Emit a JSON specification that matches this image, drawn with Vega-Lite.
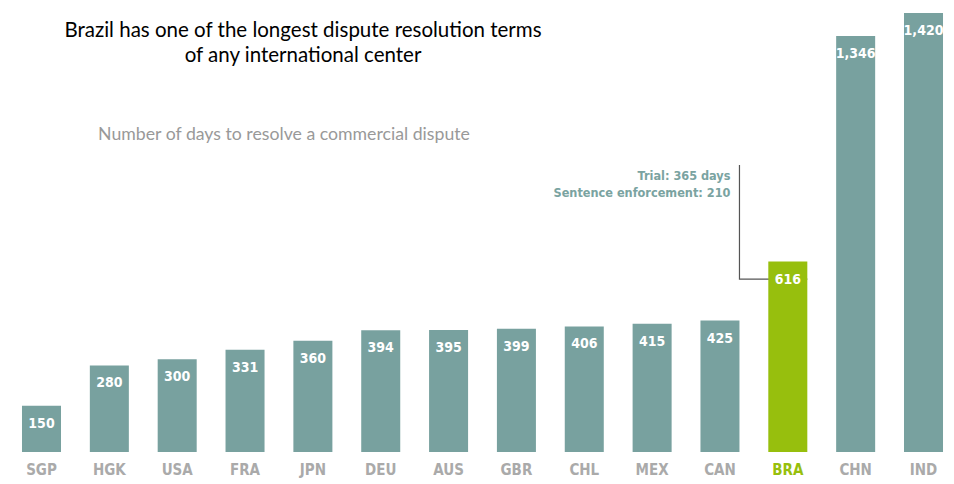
{
  "$schema": "https://vega.github.io/schema/vega-lite/v6.json",
  "width": 943,
  "height": 439,
  "autosize": {"type": "none"},
  "padding": {"left": 11, "top": 13, "right": 0, "bottom": 32},
  "background": "white",
  "config": {"view": {"stroke": null}},
  "title": {
    "text": ["Brazil has one of the longest dispute resolution terms", "of any international center"],
    "anchor": "start",
    "align": "center",
    "frame": "group",
    "dx": 292,
    "offset": -53,
    "baseline": "top",
    "font": "Lato",
    "fontSize": 20.5,
    "fontWeight": "normal",
    "color": "#000000",
    "lineHeight": 25
  },
  "datasets": {
    "bars": [
      {"country": "SGP", "days": 150},
      {"country": "HGK", "days": 280},
      {"country": "USA", "days": 300},
      {"country": "FRA", "days": 331},
      {"country": "JPN", "days": 360},
      {"country": "DEU", "days": 394},
      {"country": "AUS", "days": 395},
      {"country": "GBR", "days": 399},
      {"country": "CHL", "days": 406},
      {"country": "MEX", "days": 415},
      {"country": "CAN", "days": 425},
      {"country": "BRA", "days": 616},
      {"country": "CHN", "days": 1346},
      {"country": "IND", "days": 1420}
    ],
    "leader": [
      {"country": "CAN", "days": 928, "order": 1},
      {"country": "CAN", "days": 559, "order": 2},
      {"country": "BRA", "days": 559, "order": 3}
    ],
    "note": [
      {"country": "CAN", "days": 893, "text": "Trial: 365 days"},
      {"country": "CAN", "days": 838, "text": "Sentence enforcement: 210"}
    ],
    "subtitle": [
      {"country": "SGP", "days": 1025, "text": "Number of days to resolve a commercial dispute"}
    ]
  },
  "encoding": {
    "x": {
      "field": "country",
      "type": "nominal",
      "sort": null,
      "scale": {"domain": ["SGP","HGK","USA","FRA","JPN","DEU","AUS","GBR","CHL","MEX","CAN","BRA","CHN","IND"], "paddingInner": 0.425, "paddingOuter": 0.162},
      "axis": {
        "title": null,
        "domain": false,
        "ticks": false,
        "grid": false,
        "labelAngle": 0,
        "labelPadding": 10,
        "labelFont": "DejaVu Sans Condensed",
        "labelFontSize": 15,
        "labelFontWeight": "bold",
        "labelColor": {"expr": "datum.value == 'BRA' ? '#97bf0d' : '#aaaaaa'"}
      }
    },
    "y": {
      "field": "days",
      "type": "quantitative",
      "scale": {"domain": [0, 1420], "nice": false, "zero": true},
      "axis": null
    }
  },
  "layer": [
    {
      "data": {"name": "leader"},
      "mark": {"type": "line", "color": "#555555", "strokeWidth": 1.2},
      "encoding": {
        "x": {"field": "country", "type": "nominal", "sort": null, "bandPosition": 1},
        "order": {"field": "order", "type": "quantitative"}
      }
    },
    {
      "data": {"name": "bars"},
      "mark": {"type": "bar"},
      "encoding": {
        "color": {
          "condition": {"test": "datum.country == 'BRA'", "value": "#97bf0d"},
          "value": "#78a19f"
        }
      }
    },
    {
      "data": {"name": "bars"},
      "mark": {"type": "text", "color": "white", "font": "DejaVu Sans Condensed", "fontWeight": "bold", "fontSize": 14, "baseline": "middle", "dy": 18},
      "encoding": {
        "text": {"field": "days", "type": "quantitative", "format": ","}
      }
    },
    {
      "data": {"name": "note"},
      "mark": {"type": "text", "color": "#7aa3a1", "font": "DejaVu Sans Condensed", "fontWeight": "bold", "fontSize": 12.6, "align": "right", "baseline": "middle", "dx": -9},
      "encoding": {
        "x": {"field": "country", "type": "nominal", "sort": null, "bandPosition": 1},
        "text": {"field": "text"}
      }
    },
    {
      "data": {"name": "subtitle"},
      "mark": {"type": "text", "color": "#999999", "font": "Lato", "fontSize": 17.7, "align": "left", "baseline": "middle"},
      "encoding": {
        "x": {"field": "country", "type": "nominal", "sort": null, "bandPosition": 1.95},
        "text": {"field": "text"}
      }
    }
  ]
}
